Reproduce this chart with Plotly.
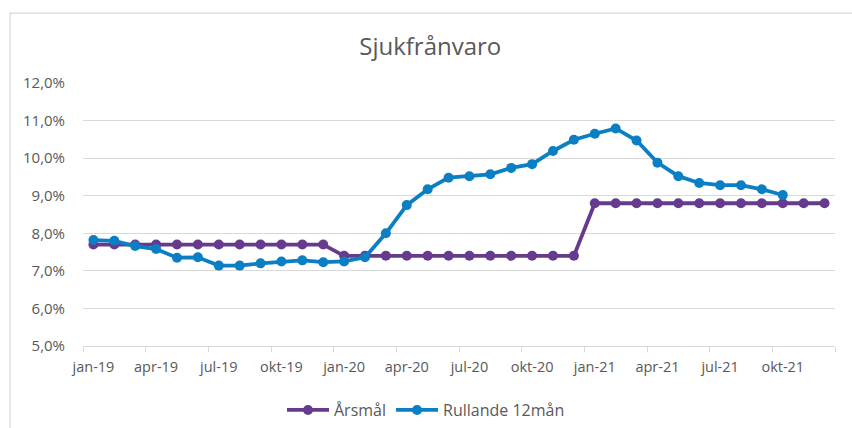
import plotly.graph_objects as go

months = ["jan-19", "feb-19", "mar-19", "apr-19", "maj-19", "jun-19", "jul-19", "aug-19", "sep-19", "okt-19", "nov-19", "dec-19",
          "jan-20", "feb-20", "mar-20", "apr-20", "maj-20", "jun-20", "jul-20", "aug-20", "sep-20", "okt-20", "nov-20", "dec-20",
          "jan-21", "feb-21", "mar-21", "apr-21", "maj-21", "jun-21", "jul-21", "aug-21", "sep-21", "okt-21", "nov-21", "dec-21"]

arsmal = [7.7] * 12 + [7.4] * 12 + [8.8] * 12

rullande = [7.82, 7.80, 7.66, 7.58, 7.35, 7.36, 7.14, 7.14, 7.20, 7.25, 7.28, 7.23,
            7.25, 7.36, 8.00, 8.75, 9.17, 9.48, 9.52, 9.57, 9.74, 9.84, 10.19, 10.49,
            10.65, 10.79, 10.47, 9.88, 9.52, 9.34, 9.28, 9.28, 9.17, 9.02, None, None]

tick_labels = ["jan-19", "apr-19", "jul-19", "okt-19", "jan-20", "apr-20", "jul-20", "okt-20",
               "jan-21", "apr-21", "jul-21", "okt-21"]

y_ticks = [5, 6, 7, 8, 9, 10, 11, 12]
y_tick_labels = ["5,0%", "6,0%", "7,0%", "8,0%", "9,0%", "10,0%", "11,0%", "12,0%"]

PURPLE = "#663a8d"
BLUE = "#0b7fc4"
TXT = "#595959"
GRID = "#d9d9d9"
FONT = "'Open Sans', sans-serif"

idx = list(range(len(months)))
label_pos = [months.index(t) for t in tick_labels]
boundaries = [i - 0.5 for i in range(0, len(months) + 1, 3)]

fig = go.Figure()
fig.add_trace(go.Scatter(x=idx, y=arsmal, name="Årsmål", mode="lines+markers",
                         line=dict(color=PURPLE, width=3.8), marker=dict(size=10, color=PURPLE),
                         hovertext=months))
fig.add_trace(go.Scatter(x=idx, y=rullande, name="Rullande 12mån", mode="lines+markers",
                         line=dict(color=BLUE, width=3.8), marker=dict(size=10, color=BLUE),
                         hovertext=months))
# invisible trace for tick-mark axis
fig.add_trace(go.Scatter(x=[boundaries[0], boundaries[-1]], y=[None, None], xaxis="x2",
                         showlegend=False, hoverinfo="skip"))

fig.update_layout(
    width=852, height=428,
    margin=dict(l=83, r=17, t=83, b=82, autoexpand=False),
    paper_bgcolor="white", plot_bgcolor="white",
    font=dict(family=FONT, color=TXT, size=14),
    title=dict(text="Sjukfrånvaro", x=0.505, xanchor="center", y=0.89, yanchor="middle",
               font=dict(size=24, color=TXT, family=FONT)),
    xaxis=dict(range=[-0.5, len(months) - 0.5], tickmode="array", tickvals=label_pos, ticktext=tick_labels,
               showgrid=False, zeroline=False, showline=False, ticks="", ticklabelstandoff=10,
               tickfont=dict(size=14.5, color=TXT), automargin=False),
    xaxis2=dict(range=[-0.5, len(months) - 0.5], overlaying="x", anchor="y", side="bottom",
                tickmode="array", tickvals=boundaries, showticklabels=False,
                ticks="outside", ticklen=5, tickcolor=GRID, tickwidth=1.3, automargin=False,
                showline=True, linecolor=GRID, linewidth=1.3, showgrid=False, zeroline=False),
    yaxis=dict(range=[5, 12], tickmode="array", tickvals=y_ticks, ticktext=y_tick_labels,
               showgrid=True, gridcolor=GRID, gridwidth=1.3, zeroline=False, showline=False,
               ticks="", ticklabelstandoff=17, tickfont=dict(size=15, color=TXT), automargin=False),
    legend=dict(orientation="h", xref="container", x=0.5, xanchor="center", yref="container", y=0.042,
                yanchor="middle", font=dict(size=16, color=TXT), traceorder="normal", itemwidth=42),
    shapes=[dict(type="rect", xref="paper", yref="paper", x0=-0.097, x1=1.1, y0=-0.4, y1=1.266,
                 line=dict(color=GRID, width=1.3), fillcolor="rgba(0,0,0,0)", layer="below")],
    showlegend=True,
)

fig.write_html("out.html", config={"displayModeBar": False},
               post_script="document.body.style.margin='0';document.body.style.overflow='hidden';")
